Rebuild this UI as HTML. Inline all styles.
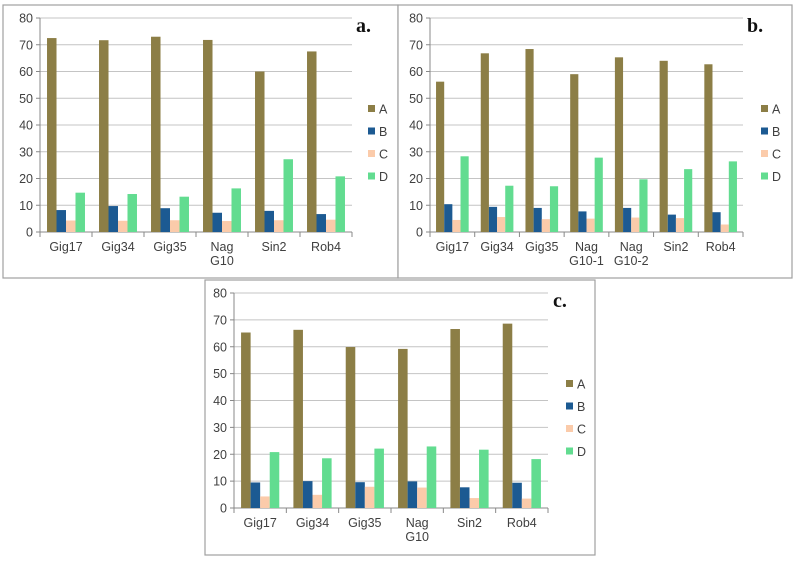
<!DOCTYPE html>
<html><head><meta charset="utf-8"><style>
html,body{margin:0;padding:0;background:#fff;width:795px;height:563px;overflow:hidden}
svg{display:block}
text{font-family:"Liberation Sans",sans-serif}
text.lbl{font-family:"Liberation Serif",serif}
</style></head><body>
<svg id="root" width="795" height="563"></svg>
<script>
const seriesNames=["A","B","C","D"];
const colors=["#8C7E46","#1C5A92","#FBCBAA","#62DC90"];
const ticks=[0,10,20,30,40,50,60,70,80];
const catsA=[["Gig17"],["Gig34"],["Gig35"],["Nag","G10"],["Sin2"],["Rob4"]];
const aA=[72.5,71.7,73,71.8,60,67.5];
const aB=[8.2,9.7,8.9,7.2,7.9,6.7];
const aC=[4.3,4.2,4.4,4.1,4.4,4.6];
const aD=[14.7,14.2,13.2,16.3,27.2,20.8];
const catsB=[["Gig17"],["Gig34"],["Gig35"],["Nag","G10-1"],["Nag","G10-2"],["Sin2"],["Rob4"]];
const bA=[56.2,66.8,68.4,59,65.3,64,62.7];
const bB=[10.4,9.4,9,7.7,9,6.5,7.4];
const bC=[4.5,5.6,4.8,5,5.4,5.2,2.8];
const bD=[28.3,17.3,17.1,27.8,19.7,23.5,26.4];
const catsC=[["Gig17"],["Gig34"],["Gig35"],["Nag","G10"],["Sin2"],["Rob4"]];
const cA=[65.3,66.3,59.9,59.2,66.6,68.6];
const cB=[9.5,10,9.6,9.9,7.7,9.4];
const cC=[4.3,4.9,7.9,7.6,3.7,3.5];
const cD=[20.8,18.5,22.1,22.9,21.7,18.2];

const NS="http://www.w3.org/2000/svg";
const root=document.getElementById('root');
function mk(tag,attrs,parent){const e=document.createElementNS(NS,tag);for(const k in attrs)e.setAttribute(k,attrs[k]);parent.appendChild(e);return e;}

function panel(id,box,plot,cats,series,label,legendX,legendY){
  const g=mk('g',{},root);
  
  
  const fr=mk('rect',{x:box[0],y:box[1],width:box[2],height:box[3],fill:'#fff',stroke:'#a0a0a0','stroke-width':1.2},g);
  
  
  const x0=plot[0],x1=plot[1],y0=plot[2],y80=plot[3];
  const yS=v=>y0-(v/80)*(y0-y80);
  ticks.forEach(t=>{
    const yy=yS(t);
    if(t>0){const l=mk('line',{x1:x0,x2:x1,y1:yy,y2:yy,stroke:'#c4c4c4','stroke-width':1},g);
      
      }
    mk('line',{x1:x0-4,x2:x0,y1:yy,y2:yy,stroke:'#888'},g);
    const tx=mk('text',{x:x0-7,y:yy+4.5,'text-anchor':'end','font-size':12.5,fill:'#404040'},g);
    tx.textContent=t;
    
    
  });
  mk('line',{x1:x0,x2:x0,y1:y80,y2:y0,stroke:'#888'},g);
  mk('line',{x1:x0,x2:x1,y1:y0,y2:y0,stroke:'#888'},g);
  const n=cats.length,slot=(x1-x0)/n,grp=slot*0.73,bw=grp/4;
  for(let i=0;i<=n;i++)mk('line',{x1:x0+i*slot,x2:x0+i*slot,y1:y0,y2:y0+5,stroke:'#888'},g);
  cats.forEach((c,i)=>{
    const cx=x0+(i+0.5)*slot;
    c.forEach((ln,j)=>{
      const t=mk('text',{x:cx,y:y0+19+j*14,'text-anchor':'middle','font-size':12.5,fill:'#404040'},g);
      t.textContent=ln;
      
      
    });
    series.forEach((s,k)=>{
      const bx=cx-grp/2+k*bw;
      const r=mk('rect',{x:bx,y:yS(s[i]),width:bw,height:y0-yS(s[i]),fill:colors[k]},g);
      
      
    });
  });
  seriesNames.forEach((nm,k)=>{
    const yy=legendY+k*22.5;
    const sw=mk('rect',{x:legendX,y:yy-4,width:7,height:7,fill:colors[k]},g);
    
    
    const t=mk('text',{x:legendX+11,y:yy+4.5,'font-size':12.5,fill:'#404040'},g);
    t.textContent=nm;
    
    
  });
  const lb=mk('text',{x:label[0],y:label[1],'font-size':20,'font-weight':'bold',fill:'#111','class':'lbl'},g);
  lb.textContent=label[2];
  
  
}
panel('a',[3,5,395,273],[40,352,232,18],catsA,[aA,aB,aC,aD],[356,32,'a.'],368,109);
panel('b',[398,5,394,273],[430,743,232,18],catsB,[bA,bB,bC,bD],[747,32,'b.'],761,109);
panel('c',[205,280,390,275],[234,548,508,293],catsC,[cA,cB,cC,cD],[553,307,'c.'],566,384);
</script>
</body></html>
